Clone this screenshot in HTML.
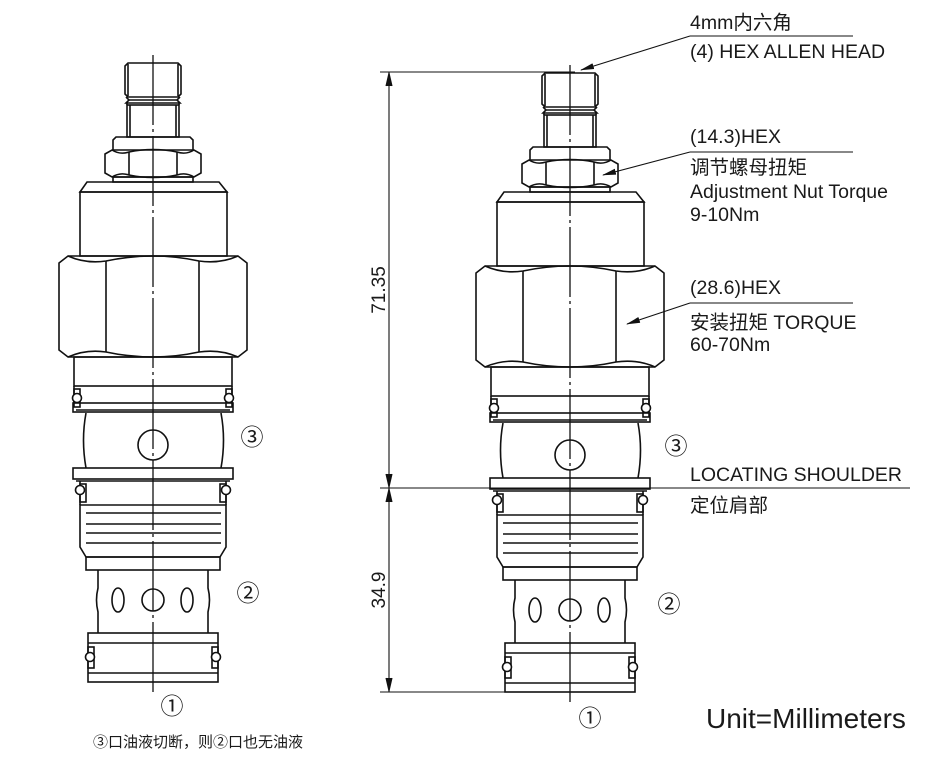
<!DOCTYPE html>
<html><head><meta charset="utf-8"><style>
html,body{margin:0;padding:0;background:#fff;}
svg{display:block;}
text{font-family:"Liberation Sans","Noto Sans CJK SC",sans-serif;fill:#1a1a1a;}
</style></head><body>
<svg width="930" height="766" viewBox="0 0 930 766" xmlns="http://www.w3.org/2000/svg">
<defs>
<g id="valve" fill="none" stroke="#111" stroke-width="1.6">
  <path d="M128,63 L178,63 L181,66 L181,94 L178,97 L128,97 L125,94 L125,66 Z"/>
  <line x1="128" y1="64" x2="128" y2="96"/><line x1="178" y1="64" x2="178" y2="96"/>
  <path d="M126,97 L129,100 L177,100 L180,97"/>
  <path d="M129,100 L126,103 L180,103 L177,100"/>
  <rect x="127" y="105" width="52" height="32"/>
  <line x1="130" y1="105" x2="130" y2="137"/><line x1="176" y1="105" x2="176" y2="137"/>
  <line x1="127" y1="103" x2="127" y2="105"/><line x1="179" y1="103" x2="179" y2="105"/>
  <path d="M113,150 L113,140 L116,137 L190,137 L193,140 L193,150"/>
  <path d="M105,154 L112,150 L194,150 L201,154 L201,173 L194,177 L112,177 L105,173 Z"/>
  <path d="M112,150 Q120,155 129,152 Q153,147 177,152 Q186,155 194,150"/>
  <path d="M112,177 Q120,172 129,175 Q153,180 177,175 Q186,172 194,177"/>
  <line x1="129" y1="152" x2="129" y2="175"/><line x1="177" y1="152" x2="177" y2="175"/>
  <rect x="113" y="177" width="80" height="5"/>
  <path d="M80,192 L87,182 L219,182 L227,192 Z"/>
  <rect x="80" y="192" width="147" height="64"/>
  <path d="M59,263 L68,256 L238,256 L247,263 L247,350 L238,357 L68,357 L59,350 Z"/>
  <path d="M68,256 Q86,264 106,261 Q153,251 199,261 Q220,264 238,256"/>
  <path d="M68,357 Q86,349 106,352 Q153,362 199,352 Q220,349 238,357"/>
  <line x1="106" y1="261" x2="106" y2="352"/><line x1="199" y1="261" x2="199" y2="352"/>
  <rect x="74" y="357" width="158" height="29"/>
  <line x1="74" y1="386" x2="74" y2="403"/><line x1="232" y1="386" x2="232" y2="403"/>
  <rect x="74" y="389" width="6" height="18" />
  <rect x="226" y="389" width="6" height="18" />
  <circle cx="77" cy="398" r="4.5" fill="#fff"/><circle cx="229" cy="398" r="4.5" fill="#fff"/>
  <rect x="73" y="403" width="160" height="9"/>
  <line x1="76" y1="410" x2="230" y2="410"/>
  <path d="M86,413 Q81,440 86,468"/><path d="M221,413 Q226,440 221,468"/>
  <circle cx="153" cy="445" r="15"/>
  <rect x="73" y="468" width="160" height="11"/>
  <line x1="76" y1="481" x2="230" y2="481"/>
  <line x1="80" y1="481" x2="80" y2="505"/><line x1="226" y1="481" x2="226" y2="505"/>
  <rect x="80" y="484" width="6" height="18"/><rect x="220" y="484" width="6" height="18"/>
  <circle cx="80" cy="490" r="4.5" fill="#fff"/><circle cx="226" cy="490" r="4.5" fill="#fff"/>
  <path d="M80,505 L226,505 L226,547 L220,557 L86,557 L80,547 Z"/>
  <line x1="86" y1="513" x2="221" y2="513"/><line x1="86" y1="524" x2="221" y2="524"/>
  <line x1="86" y1="533" x2="221" y2="533"/><line x1="86" y1="543" x2="221" y2="543"/>
  <rect x="86" y="557" width="134" height="13"/>
  <path d="M98,570 L98,588 Q95,600 98,612 L98,633"/>
  <path d="M208,570 L208,588 Q211,600 208,612 L208,633"/>
  <circle cx="153" cy="600" r="11"/>
  <ellipse cx="118" cy="600" rx="6" ry="12"/><ellipse cx="187" cy="600" rx="6" ry="12"/>
  <rect x="88" y="633" width="130" height="49"/>
  <line x1="88" y1="643" x2="218" y2="643"/><line x1="88" y1="673" x2="218" y2="673"/>
  <rect x="88" y="647" width="6" height="21"/><rect x="212" y="647" width="6" height="21"/>
  <circle cx="90" cy="657" r="4.5" fill="#fff"/><circle cx="216" cy="657" r="4.5" fill="#fff"/>
  <line x1="153" y1="55" x2="153" y2="692" stroke-width="1.3" stroke-dasharray="70 4 3 4"/>
</g>
<marker id="ah" markerWidth="14" markerHeight="8" refX="13" refY="4" orient="auto" markerUnits="userSpaceOnUse">
  <path d="M0,1 L14,4 L0,7 Z" fill="#111"/>
</marker>
</defs>

<use href="#valve"/>
<use href="#valve" transform="translate(417,10)"/>

<g font-size="23">
<text x="252" y="445" text-anchor="middle">③</text>
<text x="248" y="601" text-anchor="middle">②</text>
<text x="172" y="714" text-anchor="middle">①</text>
<text x="676" y="454" text-anchor="middle">③</text>
<text x="669" y="612" text-anchor="middle">②</text>
<text x="590" y="726" text-anchor="middle">①</text>
</g>
<text x="93" y="747" font-size="15">③口油液切断，则②口也无油液</text>
<text x="706" y="728" font-size="28">Unit=Millimeters</text>

<g stroke="#111" stroke-width="1.1" fill="none">
  <line x1="380" y1="72" x2="575" y2="72"/>
  <line x1="380" y1="488" x2="910" y2="488"/>
  <line x1="380" y1="692" x2="564" y2="692"/>
  <line x1="389" y1="72" x2="389" y2="692"/>
  <path d="M386,86 L389,73 L392,86" fill="#111"/>
  <path d="M386,474 L389,487 L392,474" fill="#111"/>
  <path d="M386,502 L389,489 L392,502" fill="#111"/>
  <path d="M386,678 L389,691 L392,678" fill="#111"/>
  <line x1="690" y1="36" x2="853" y2="36"/>
  <line x1="690" y1="36" x2="581" y2="70" marker-end="url(#ah)"/>
  <line x1="690" y1="152" x2="853" y2="152"/>
  <line x1="690" y1="152" x2="603" y2="175" marker-end="url(#ah)"/>
  <line x1="690" y1="303" x2="853" y2="303"/>
  <line x1="690" y1="303" x2="627" y2="324" marker-end="url(#ah)"/>
</g>
<text transform="translate(385,290) rotate(-90)" font-size="19" text-anchor="middle">71.35</text>
<text transform="translate(385,590) rotate(-90)" font-size="19" text-anchor="middle">34.9</text>

<g font-size="19.5">
<text x="690" y="29">4mm内六角</text>
<text x="690" y="58">(4) HEX ALLEN HEAD</text>
<text x="690" y="143">(14.3)HEX</text>
<text x="690" y="174">调节螺母扭矩</text>
<text x="690" y="198">Adjustment Nut Torque</text>
<text x="690" y="221">9-10Nm</text>
<text x="690" y="294">(28.6)HEX</text>
<text x="690" y="329">安装扭矩  TORQUE</text>
<text x="690" y="351">60-70Nm</text>
<text x="690" y="481">LOCATING SHOULDER</text>
<text x="690" y="512">定位肩部</text>
</g>
</svg>
</body></html>
